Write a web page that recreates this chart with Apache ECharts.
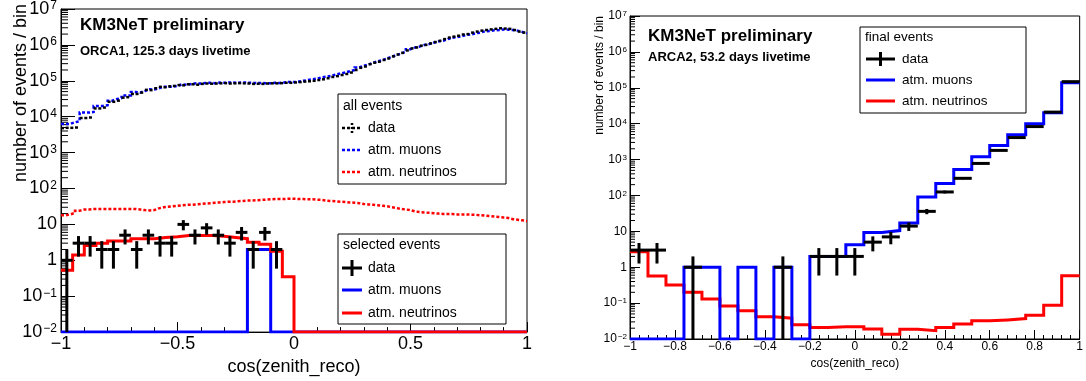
<!DOCTYPE html>
<html><head><meta charset="utf-8">
<script src="https://cdn.jsdelivr.net/npm/echarts@6/dist/echarts.min.js"></script>
<style>html,body{margin:0;padding:0;background:#fff}#c{width:1086px;height:381px}</style>
</head><body><div id="c"></div>
<script>
const FONT = 'Liberation Sans, Arial, Helvetica, sans-serif';
const YMIN = 0.01, YMAX = 1e7;

// ---- ORCA1, all events: 100 bins of width 0.02 from -1 to 1 ----
const orcaAllBinWidth = 0.02;
const orcaAllData = [4800, 4900, 4900, 5000, 9200, 9200, 9500, 17000, 17000, 18000, 26000, 26000, 28000, 34000, 35000, 43000, 43000, 47000, 56000, 55000, 62000, 68000, 66000, 70000, 72000, 76000,
  75000, 80000, 80000, 78000, 82000, 84000, 83000, 84000, 85000, 86000, 84000, 85000, 86000, 85000, 84000, 82000, 83000, 82000, 84000, 85000, 85000, 86000, 88000, 88000,
  90000, 92000, 95000, 97000, 100000, 105000, 110000, 118000, 128000, 135000, 145000, 155000, 170000, 200000, 230000, 250000, 290000, 320000, 340000, 380000,
  420000, 480000, 540000, 600000, 700000, 800000, 850000, 950000, 1000000, 1100000, 1200000, 1300000, 1450000, 1600000, 1700000, 1800000, 1950000, 2000000, 2200000, 2350000,
  2500000, 2600000, 2700000, 2800000, 2900000, 2850000, 2800000, 2600000, 2350000, 2200000];
const orcaAllMuons = [6300, 6300, 7000, 7500, 13000, 13000, 13500, 20000, 20000, 21000, 28000, 31000, 33000, 39000, 39000, 49000, 47000, 52000, 58000, 57000, 62000, 68000, 68000, 69000, 72000, 80000,
  78000, 82000, 85000, 84000, 87000, 88000, 86000, 89000, 88000, 90000, 89000, 88000, 90000, 89000, 88000, 86000, 87000, 85000, 86000, 88000, 87000, 90000, 93000, 92000,
  95000, 100000, 105000, 110000, 115000, 125000, 130000, 138000, 150000, 160000,
  170000, 185000, 200000, 235000, 265000, 285000, 320000, 350000, 380000, 420000,
  470000, 520000, 580000, 650000, 760000,
  850000, 900000, 1000000, 1050000, 1150000, 1250000, 1300000, 1450000, 1580000, 1650000, 1750000, 1900000, 1950000, 2100000, 2200000, 2400000, 2450000, 2550000, 2600000, 2700000, 2650000, 2600000, 2500000, 2300000, 2100000];
const orcaAllNeutrinos = [18, 19, 21, 24, 26, 26, 27, 27, 27, 27, 27, 27, 27, 27, 27, 27, 26, 25, 24.5, 25,
  28, 30, 31, 32, 33, 34, 35, 35, 36, 37, 38, 39, 40, 41, 42, 43, 43, 44, 45, 46,
  46, 47, 48, 49, 50, 51, 51, 51, 52, 52, 51, 51, 50, 50, 49, 48, 46, 45, 44, 43,
  42, 41, 40, 39, 37, 36, 35, 34, 33, 32, 30, 28.5, 27, 26, 25, 23, 22, 21.5, 21, 20.5,
  20, 19.5, 19.5, 19.5, 19, 19, 19, 18.7, 18.5, 18, 17.5, 17, 16.5, 16, 15.5, 15, 14, 13.5, 13, 12.3];

// ---- ORCA1, selected events: 40 bins of width 0.05 ----
const orcaSelBinWidth = 0.05;
const orcaSelData = [1, 3, 3, 2, 2, 5, 2, 5, 3, 3, 10, 5, 8, 5, 3, 6, 2, 6, 2, 0,
  0, 0, 0, 0, 0, 0, 0, 0, 0, 0, 0, 0, 0, 0, 0, 0, 0, 0, 0, 0];
const orcaSelMuons = [0, 0, 0, 0, 0, 0, 0, 0, 0, 0, 0, 0, 0, 0, 0, 0, 2, 2, 0, 0,
  0, 0, 0, 0, 0, 0, 0, 0, 0, 0, 0, 0, 0, 0, 0, 0, 0, 0, 0, 0];
const orcaSelNeutrinos = [0.53, 1.4, 2.6, 3.0, 3.45, 3.45, 4.0, 4.0, 4.3, 4.5, 4.9, 4.9, 4.9, 4.7, 4.3, 4.0, 3.2, 2.8, 1.8, 0.35,
  0, 0, 0, 0, 0, 0, 0, 0, 0, 0, 0, 0, 0, 0, 0, 0, 0, 0, 0, 0];

// ---- ARCA2, final events: 25 bins of width 0.08 ----
const arcaBinWidth = 0.08;
const arcaData = [3, 3, 0, 1, 0, 0, 0, 0, 1, 0, 2, 2, 2, 5, 7, 14, 36, 125, 300, 780, 1800, 4100, 8300, 21000, 148000];
const arcaMuons = [0, 0, 0, 1, 1, 0, 1, 0, 1, 0, 2, 2, 4.2, 9.3, 10.5, 17, 90, 215, 530, 1200, 2450, 4900, 10000, 20000, 137000];
const arcaNeutrinos = [2.7, 0.57, 0.32, 0.2, 0.13, 0.083, 0.061, 0.042, 0.038, 0.025, 0.021, 0.022, 0.022, 0.019, 0.0135, 0.0186, 0.017, 0.021, 0.026, 0.032, 0.034, 0.037, 0.046, 0.087, 0.58];

const X_MIN = -1, X_MAX = 1;

function stepPoints(values, width) {
  const pts = values.map((v, i) => [X_MIN + i * width, Math.max(v, YMIN)]);
  pts.push([X_MIN + values.length * width, Math.max(values[values.length - 1], YMIN)]);
  return pts;
}
function stepSeries(idx, values, width, color, lw, dash, z) {
  return {
    type: 'line', xAxisIndex: idx, yAxisIndex: idx, step: 'end', data: stepPoints(values, width),
    symbol: 'none', showSymbol: false, silent: true, animation: false, z: z,
    lineStyle: { color: color, width: lw, type: dash ? [3, 2] : 'solid', cap: 'butt', join: 'miter' }
  };
}
function crossSeries(idx, values, width, lw, dash, withErr) {
  const data = [];
  values.forEach((v, i) => { if (v > 0) data.push([X_MIN + (i + 0.5) * width, v]); });
  return {
    type: 'custom', xAxisIndex: idx, yAxisIndex: idx, data: data, silent: true, animation: false, z: 6,
    renderItem: function (params, api) {
      const x = api.value(0), v = api.value(1), e = Math.sqrt(v);
      const a = api.coord([x - width / 2, v]), b = api.coord([x + width / 2, v]);
      const st = { stroke: '#000', lineWidth: lw, lineDash: dash ? [3, 2] : null };
      const children = [{ type: 'line', shape: { x1: a[0], y1: a[1], x2: b[0], y2: b[1] }, style: st }];
      if (withErr) {
        const t = api.coord([x, Math.min(v + e, YMAX)]), d = api.coord([x, Math.max(v - e, YMIN)]);
        children.push({ type: 'line', shape: { x1: t[0], y1: t[1], x2: d[0], y2: d[1] }, style: { stroke: '#000', lineWidth: lw } });
      }
      return { type: 'group', children: children };
    }
  };
}
function minorLogTicks(idx, len) {
  const data = [];
  for (let k = Math.round(Math.log10(YMIN)); k < Math.round(Math.log10(YMAX)); k++)
    for (let m = 2; m <= 9; m++) data.push([X_MIN, m * Math.pow(10, k)]);
  return {
    type: 'custom', xAxisIndex: idx, yAxisIndex: idx, data: data, silent: true, animation: false, z: 3,
    renderItem: function (params, api) {
      const p = api.coord([api.value(0), api.value(1)]);
      return { type: 'line', shape: { x1: p[0], y1: p[1], x2: p[0] + len, y2: p[1] }, style: { stroke: '#000', lineWidth: 1 } };
    }
  };
}
function logLabel(v) {
  const k = Math.round(Math.log10(v));
  if (k === 0) return '1';
  if (k === 1) return '10';
  return '10{s|' + (k < 0 ? '\u2212' + (-k) : k) + '}';
}
function xLabel(v) {
  const r = Math.round(v * 10) / 10;
  return String(r).replace('-', '\u2212');
}
function xAxisCfg(idx, interval, fs, tickLen, minorLen, margin, nameGap) {
  return {
    gridIndex: idx, type: 'value', min: X_MIN, max: X_MAX, interval: interval,
    axisLine: { onZero: false, lineStyle: { color: '#000', width: 1 } },
    axisTick: { inside: true, length: tickLen, lineStyle: { color: '#000' } },
    minorTick: { show: true, splitNumber: 5, length: minorLen, lineStyle: { color: '#000' } },
    splitLine: { show: false }, minorSplitLine: { show: false },
    axisLabel: { formatter: xLabel, fontSize: fs, color: '#000', fontFamily: FONT, margin: margin, showMinLabel: true, showMaxLabel: true },
    name: 'cos(zenith_reco)', nameLocation: 'middle', nameGap: nameGap,
    nameTextStyle: { fontSize: fs, color: '#000', fontFamily: FONT }
  };
}
function yAxisCfg(idx, fs, sfs, tickLen, margin) {
  return {
    gridIndex: idx, type: 'log', logBase: 10, min: YMIN, max: YMAX, interval: 1,
    axisLine: { onZero: false, lineStyle: { color: '#000', width: 1 } },
    axisTick: { inside: true, length: tickLen, lineStyle: { color: '#000' } },
    splitLine: { show: false },
    axisLabel: {
      formatter: logLabel, fontSize: fs, color: '#000', fontFamily: FONT, margin: margin, lineHeight: fs,
      rich: { s: { fontSize: sfs, fontFamily: FONT, color: '#000', verticalAlign: 'top', lineHeight: sfs, padding: [0, 0, 0, 1] } }
    }
  };
}

// legend drawing helpers (graphic elements)
function legendBox(x, y, w, h, title, entries, fs, symX1, symX2, textX, crossH) {
  const els = [{ type: 'rect', shape: { x: x, y: y, width: w, height: h }, style: { fill: '#fff', stroke: '#000', lineWidth: 1 }, z: 100 }];
  els.push({ type: 'text', x: x + 5, y: title.y, style: { text: title.text, font: fs + 'px ' + FONT, fill: '#000', textVerticalAlign: 'middle', verticalAlign: 'middle' }, z: 101 });
  entries.forEach(en => {
    els.push({ type: 'line', shape: { x1: symX1, y1: en.y, x2: symX2, y2: en.y }, style: { stroke: en.color, lineWidth: en.lw, lineDash: en.dash ? [3, 2] : null }, z: 101 });
    if (en.cross) {
      const cx = (symX1 + symX2) / 2;
      els.push({ type: 'line', shape: { x1: cx, y1: en.y - crossH, x2: cx, y2: en.y + crossH }, style: { stroke: '#000', lineWidth: en.lw, lineDash: en.dash ? [2, 2] : null }, z: 101 });
    }
    els.push({ type: 'text', x: textX, y: en.y, style: { text: en.text, font: fs + 'px ' + FONT, fill: '#000', textVerticalAlign: 'middle', verticalAlign: 'middle' }, z: 101 });
  });
  return els;
}

const graphics = [].concat(
  [
    { type: 'text', x: 80, y: 25, style: { text: 'KM3NeT preliminary', font: 'bold 17px ' + FONT, fill: '#000', textVerticalAlign: 'middle', verticalAlign: 'middle' }, z: 50 },
    { type: 'text', x: 80, y: 51, style: { text: 'ORCA1, 125.3 days livetime', font: 'bold 13px ' + FONT, fill: '#000', textVerticalAlign: 'middle', verticalAlign: 'middle' }, z: 50 },
    { type: 'text', x: 648, y: 36, style: { text: 'KM3NeT preliminary', font: 'bold 17px ' + FONT, fill: '#000', textVerticalAlign: 'middle', verticalAlign: 'middle' }, z: 50 },
    { type: 'text', x: 648, y: 57, style: { text: 'ARCA2, 53.2 days livetime', font: 'bold 13px ' + FONT, fill: '#000', textVerticalAlign: 'middle', verticalAlign: 'middle' }, z: 50 },
    { type: 'text', x: 21, y: 4, rotation: Math.PI / 2, style: { text: 'number of events / bin', font: '18px ' + FONT, fill: '#000', textAlign: 'right', align: 'right', textVerticalAlign: 'middle', verticalAlign: 'middle' }, z: 50 },
    { type: 'text', x: 600, y: 16, rotation: Math.PI / 2, style: { text: 'number of events / bin', font: '12px ' + FONT, fill: '#000', textAlign: 'right', align: 'right', textVerticalAlign: 'middle', verticalAlign: 'middle' }, z: 50 }
  ],
  legendBox(338, 94, 168, 90, { text: 'all events', y: 106 }, [
    { text: 'data', y: 128, color: '#000', lw: 2.5, dash: true, cross: true },
    { text: 'atm. muons', y: 150, color: '#0000ff', lw: 2.5, dash: true },
    { text: 'atm. neutrinos', y: 172, color: '#ff0000', lw: 2.5, dash: true }
  ], 14, 342, 362, 368, 5),
  legendBox(338, 234, 168, 90, { text: 'selected events', y: 245 }, [
    { text: 'data', y: 268, color: '#000', lw: 3, cross: true },
    { text: 'atm. muons', y: 290, color: '#0000ff', lw: 3 },
    { text: 'atm. neutrinos', y: 313, color: '#ff0000', lw: 3 }
  ], 14, 342, 362, 368, 8),
  legendBox(860, 27, 166, 86, { text: 'final events', y: 37 }, [
    { text: 'data', y: 59, color: '#000', lw: 3, cross: true },
    { text: 'atm. muons', y: 80, color: '#0000ff', lw: 3 },
    { text: 'atm. neutrinos', y: 101, color: '#ff0000', lw: 3 }
  ], 13.5, 866, 895, 902, 7)
);

const option = {
  animation: false,
  backgroundColor: '#fff',
  grid: [
    { left: 61, top: 4, width: 466, height: 330, show: true, borderColor: '#000', borderWidth: 1, backgroundColor: 'transparent' },
    { left: 630, top: 16, width: 455, height: 323, show: true, borderColor: '#000', borderWidth: 1, backgroundColor: 'transparent' }
  ],
  xAxis: [xAxisCfg(0, 0.5, 18, 10, 5, 3, 24), xAxisCfg(1, 0.2, 12, 9, 4, 2, 15)],
  yAxis: [yAxisCfg(0, 18, 12, 14, 4), yAxisCfg(1, 12, 8, 10, 3)],
  series: [
    minorLogTicks(0, 7),
    minorLogTicks(1, 5),
    stepSeries(0, orcaAllNeutrinos, orcaAllBinWidth, '#ff0000', 2.5, true, 4),
    stepSeries(0, orcaAllMuons, orcaAllBinWidth, '#0000ff', 2.5, true, 5),
    crossSeries(0, orcaAllData, orcaAllBinWidth, 2.5, true, false),
    stepSeries(0, orcaSelMuons, orcaSelBinWidth, '#0000ff', 3, false, 4),
    stepSeries(0, orcaSelNeutrinos, orcaSelBinWidth, '#ff0000', 3, false, 5),
    crossSeries(0, orcaSelData, orcaSelBinWidth, 3, false, true),
    stepSeries(1, arcaNeutrinos, arcaBinWidth, '#ff0000', 3, false, 4),
    stepSeries(1, arcaMuons, arcaBinWidth, '#0000ff', 3, false, 5),
    crossSeries(1, arcaData, arcaBinWidth, 3, false, true)
  ],
  graphic: graphics
};
const chart = echarts.init(document.getElementById('c'), null, { renderer: 'canvas' });
chart.setOption(option);
</script>
</body></html>
